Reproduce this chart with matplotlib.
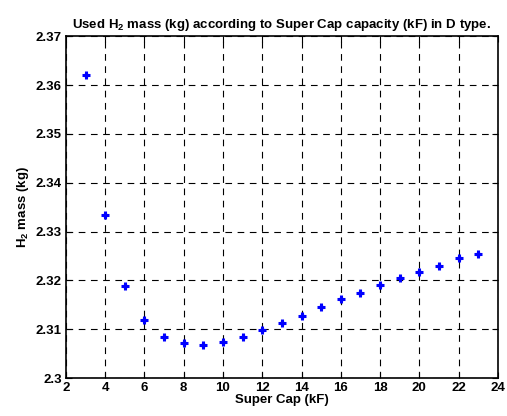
import numpy as np
import matplotlib.pyplot as plt

plt.rcParams['font.family'] = ['Liberation Sans', 'DejaVu Sans']
plt.rcParams['font.weight'] = 'bold'
plt.rcParams['mathtext.fontset'] = 'custom'
plt.rcParams['mathtext.bf'] = 'Liberation Sans:bold'

# super cap capacity (kF) and used H2 mass (kg)
cap_kf = [3, 4, 5, 6, 7, 8, 9, 10, 11, 12, 13, 14, 15, 16, 17, 18, 19, 20, 21, 22, 23]
h2_mass = [2.3620, 2.3333, 2.3189, 2.3120, 2.3084, 2.3071, 2.3068, 2.3075, 2.3084,
           2.3098, 2.3112, 2.3128, 2.3145, 2.3161, 2.3174, 2.3191, 2.3206, 2.3218,
           2.3230, 2.3245, 2.3255]
x_ticks = list(range(2, 25, 2))
y_ticks = [2.30, 2.31, 2.32, 2.33, 2.34, 2.35, 2.36, 2.37]
y_labels = ['2.3', '2.31', '2.32', '2.33', '2.34', '2.35', '2.36', '2.37']

fig = plt.figure(figsize=(5.07, 4.16), dpi=100)
ax = fig.add_axes([0.130, 0.091, 0.852, 0.822])

ax.plot(cap_kf, h2_mass, linestyle='none', marker='+', color='blue',
        markersize=6, markeredgewidth=2.2)
ax.plot(cap_kf, h2_mass, linestyle='none', marker='D', color='blue',
        markersize=2.5)

ax.set_xlim(2, 24)
ax.set_ylim(2.30, 2.37)
ax.set_xticks(x_ticks)
ax.set_xticklabels([str(t) for t in x_ticks], fontweight='bold')
ax.set_yticks(y_ticks)
ax.set_yticklabels(y_labels, fontweight='bold')
ax.tick_params(direction='in', top=True, right=True, labelsize=9.5, length=4)
ax.tick_params(axis='x', pad=3)
ax.tick_params(axis='y', pad=3)
ax.grid(True, color='black', linestyle=(0, (6, 5)), linewidth=0.8)
for s in ax.spines.values():
    s.set_linewidth(1.2)

ax.set_xlabel('Super Cap (kF)', fontsize=9.5, fontweight='bold', labelpad=0)
ax.set_ylabel('H$_\\mathbf{2}$ mass (kg)', fontsize=9.5, fontweight='bold', labelpad=3)
ax.set_title('Used H$_\\mathbf{2}$ mass (kg) according to Super Cap capacity (kF) in D type.',
             fontsize=9.5, fontweight='bold', pad=6)

fig.savefig('out.png', dpi=100)
